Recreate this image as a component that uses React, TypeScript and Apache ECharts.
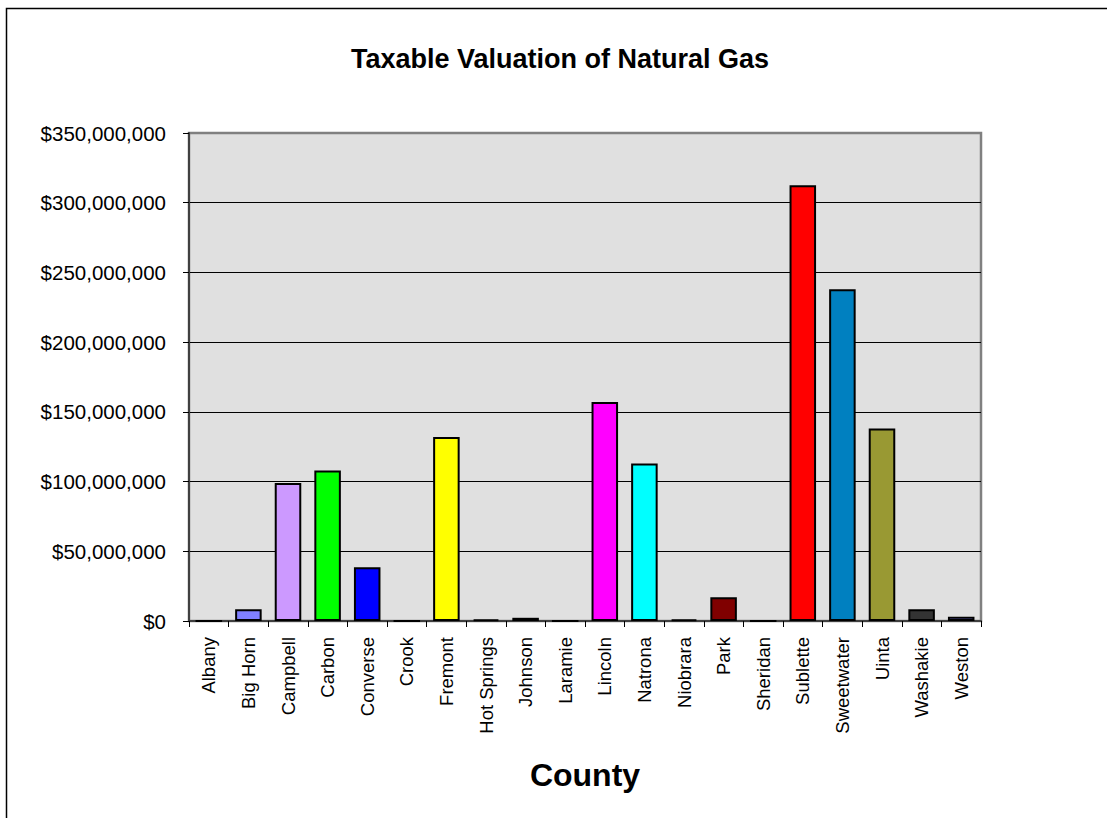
import React, { useEffect, useRef } from "react";
import * as echarts from "echarts";

const counties = [
  "Albany", "Big Horn", "Campbell", "Carbon", "Converse", "Crook", "Fremont",
  "Hot Springs", "Johnson", "Laramie", "Lincoln", "Natrona", "Niobrara", "Park",
  "Sheridan", "Sublette", "Sweetwater", "Uinta", "Washakie", "Weston",
];

const valuations = [
  0, 8400000, 99000000, 108000000, 38500000, 0, 132000000,
  1200000, 2300000, 0, 157000000, 113000000, 1200000, 17000000,
  0, 312500000, 238000000, 138000000, 8400000, 3000000,
];

const barColors = [
  "#9999ff", "#8080ff", "#cc99ff", "#00ff00", "#0000ff", "#993366", "#ffff00",
  "#ff8080", "#00ccff", "#993300", "#ff00ff", "#00ffff", "#808000", "#800000",
  "#008080", "#ff0000", "#0080c0", "#999933", "#333333", "#8080ff",
];

const yTicks = { min: 0, max: 350000000, interval: 50000000 };

const FONT = "Liberation Sans, Arial, sans-serif";

const fmt = (v: number) => "$" + Math.round(v).toString().replace(/\B(?=(\d{3})+(?!\d))/g, ",");

export default function App() {
  const ref = useRef<HTMLDivElement>(null);
  useEffect(() => {
    if (!ref.current) return;
    const chart = echarts.init(ref.current, undefined, { renderer: "svg" });
    chart.setOption({
      animation: false,
      backgroundColor: "#ffffff",
      textStyle: { fontFamily: FONT },
      title: {
        text: "Taxable Valuation of Natural Gas",
        left: 555,
        textAlign: "center",
        top: 40,
        textStyle: { fontSize: 27, fontWeight: "bold", color: "#000", fontFamily: FONT },
      },
      graphic: [
        {
          type: "polyline",
          shape: { points: [[6.5, 830], [6.5, 8.5], [1120, 8.5]] },
          style: { stroke: "#000", lineWidth: 1.5, fill: null },
          silent: true,
        },
      ],
      grid: {
        left: 189,
        right: 1107 - 981,
        top: 133,
        bottom: 818 - 621,
        show: true,
        backgroundColor: "#e0e0e0",
        borderColor: "#808080",
        borderWidth: 2.5,
      },
      xAxis: {
        type: "category",
        data: counties,
        name: "County",
        nameLocation: "middle",
        nameGap: 138,
        nameTextStyle: { fontSize: 32, fontWeight: "bold", color: "#000", fontFamily: FONT },
        axisLine: { show: true, lineStyle: { color: "#404040", width: 2 } },
        axisTick: { show: true, alignWithLabel: false, length: 6, lineStyle: { color: "#000", width: 1 } },
        axisLabel: { rotate: 90, margin: 16, fontSize: 18.5, color: "#000", interval: 0, fontFamily: FONT },
        splitLine: { show: false },
      },
      yAxis: {
        type: "value",
        min: yTicks.min,
        max: yTicks.max,
        interval: yTicks.interval,
        axisLine: { show: true, lineStyle: { color: "#404040", width: 2 } },
        axisTick: { show: true, length: 6, lineStyle: { color: "#000", width: 1 } },
        axisLabel: { margin: 23, fontSize: 20.5, color: "#000", formatter: fmt, fontFamily: FONT },
        splitLine: { show: true, showMinLine: false, showMaxLine: false, lineStyle: { color: "#000", width: 1 } },
      },
      series: [
        {
          type: "bar",
          data: valuations.map((v, i) => ({ value: v, itemStyle: { color: barColors[i] } })),
          barCategoryGap: "33%",
          itemStyle: { borderColor: "#000", borderWidth: 2 },
        },
      ],
    });
    return () => chart.dispose();
  }, []);
  return <div ref={ref} style={{ position: "fixed", left: 0, top: 0, width: 1107, height: 818 }} />;
}
